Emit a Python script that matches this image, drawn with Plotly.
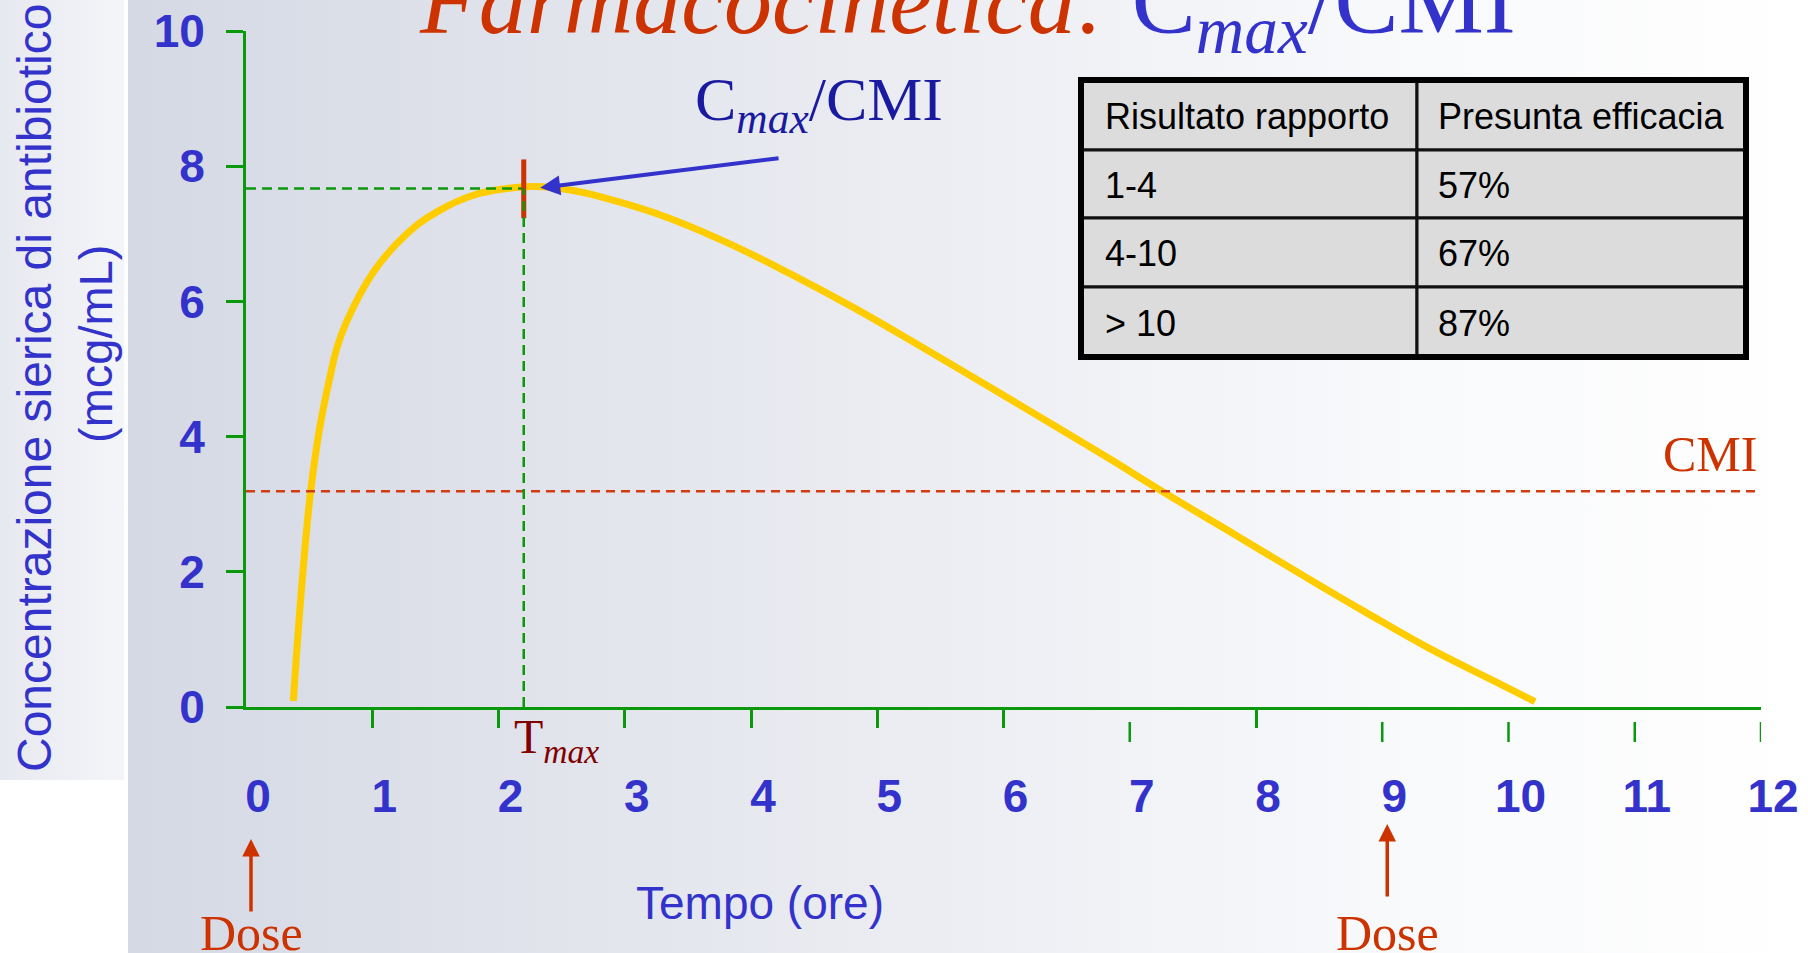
import base64
import plotly.graph_objects as go

# ---------------- data ----------------
TIME = [0.375, 0.441, 0.512, 0.586, 0.665, 0.718, 0.797, 1.008, 1.273, 1.537, 1.80, 2.065, 2.276,
        2.59, 2.86, 3.31, 3.81, 4.32, 4.82, 5.33, 5.84, 6.368, 6.85, 7.266, 7.86, 8.36, 8.87,
        9.37, 9.88, 10.21]
CONC = [0.09, 1.78, 3.19, 4.15, 4.88, 5.30, 5.70, 6.43, 7.00, 7.35, 7.57, 7.67, 7.70,
        7.64, 7.52, 7.26, 6.87, 6.40, 5.90, 5.35, 4.79, 4.20, 3.66, 3.18, 2.52, 1.96, 1.40,
        0.87, 0.39, 0.08]
CMI = 3.19
T_MAX = 2.2
C_MAX = 7.67
CMAX_MARK = [7.23, 8.10]
ARROW_TAIL = [4.23, 8.12]
ARROW_HEAD = [2.33, 7.68]
DOSE_TIMES = [0, 9]
X_TICKS = list(range(0, 13))
X_TICKS_ATTACHED = [1, 2, 3, 4, 5, 6, 8]
X_TICKS_DETACHED = [7, 9, 10, 11, 12]
Y_TICKS = [0, 2, 4, 6, 8, 10]
X_RANGE = [0, 12]
Y_RANGE = [0, 10]

TABLE_HEADER = ["Risultato rapporto", "Presunta efficacia"]
TABLE_RATIO = ["1-4", "4-10", "> 10"]
TABLE_EFFICACY = ["57%", "67%", "87%"]

# ---------------- layout geometry (pixels) ----------------
W, H = 1808, 953
PL, PR, PT, PB = 246, 1761, 31, 707
TABLE_COL_EDGES = [1081, 1417, 1746]
TABLE_ROW_EDGES = [80, 150, 218, 287, 357]
TABLE_TEXT_PAD = [22, 19]


def px_x(px):
    return (px - PL) / (PR - PL)


def px_y(py):
    return (PB - py) / (PB - PT)


GREEN = "#0a990a"
BLUE = "#3333cc"
NAVY = "#1a1aa0"
ORANGE = "#cc3300"
YELLOW = "#ffcc00"
MAROON = "#800000"
SANS = "Liberation Sans, Arial, sans-serif"
SERIF = "Liberation Serif, Times New Roman, serif"

svg = f"""<svg xmlns='http://www.w3.org/2000/svg' width='{W}' height='{H + 20}' viewBox='0 0 {W} {H + 20}' preserveAspectRatio='none'>
<defs>
<linearGradient id='g' x1='0' y1='0' x2='1' y2='0'>
<stop offset='0' stop-color='#d5d9e4'/>
<stop offset='0.4' stop-color='#e8eaf0'/>
<stop offset='0.75' stop-color='#f8f9fb'/>
<stop offset='1' stop-color='#ffffff'/>
</linearGradient>
<linearGradient id='s' x1='0' y1='0' x2='1' y2='0'>
<stop offset='0' stop-color='#e7e9f0'/>
<stop offset='1' stop-color='#f4f5f8'/>
</linearGradient>
</defs>
<rect width='{W}' height='{H + 20}' fill='#ffffff'/>
<rect x='128' y='0' width='{W-128}' height='{H + 20}' fill='url(#g)'/>
<rect x='0' y='0' width='124' height='780' fill='url(#s)'/>
</svg>"""
bg_src = "data:image/svg+xml;base64," + base64.b64encode(svg.encode()).decode()

fig = go.Figure()

fig.add_trace(go.Scatter(
    x=TIME, y=CONC, mode="lines",
    line=dict(color=YELLOW, width=7, shape="spline", smoothing=1.2),
    hoverinfo="skip", showlegend=False,
))
# hidden trace to activate the overlay axis carrying the attached ticks
fig.add_trace(go.Scatter(x=[X_RANGE[0]], y=[Y_RANGE[0]], xaxis="x2", mode="markers",
                         marker=dict(opacity=0), hoverinfo="skip", showlegend=False))

shapes = []
ann = []

# ---- table (cells, grid and text) ----
table_cols = [[TABLE_HEADER[0]] + TABLE_RATIO, [TABLE_HEADER[1]] + TABLE_EFFICACY]
for ci, col in enumerate(table_cols):
    for ri, txt in enumerate(col):
        x0, x1 = TABLE_COL_EDGES[ci], TABLE_COL_EDGES[ci + 1]
        y0, y1 = TABLE_ROW_EDGES[ri], TABLE_ROW_EDGES[ri + 1]
        shapes.append(dict(type="rect", xref="paper", yref="paper", layer="below",
                           x0=px_x(x0), x1=px_x(x1), y0=px_y(y1), y1=px_y(y0),
                           fillcolor="#dcdcdc", line=dict(color="#111111", width=3)))
        ann.append(dict(xref="paper", yref="paper", x=px_x(x0 + TABLE_TEXT_PAD[ci]),
                        y=px_y((y0 + y1) / 2 + 1), xanchor="left", yanchor="middle",
                        text=txt, showarrow=False,
                        font=dict(family=SANS, size=36, color="#000000")))
shapes.append(dict(type="rect", xref="paper", yref="paper",
                   x0=px_x(TABLE_COL_EDGES[0]), x1=px_x(TABLE_COL_EDGES[-1]),
                   y0=px_y(TABLE_ROW_EDGES[-1]), y1=px_y(TABLE_ROW_EDGES[0]),
                   line=dict(color="#000000", width=6)))

# CMI line
shapes.append(dict(type="line", xref="paper", yref="y", x0=0, x1=1, y0=CMI, y1=CMI,
                   line=dict(color="#d23c10", width=2.5, dash="9px,6px")))
# Cmax / Tmax guides
shapes.append(dict(type="line", xref="x", yref="y", x0=X_RANGE[0], x1=T_MAX, y0=C_MAX, y1=C_MAX,
                   line=dict(color=GREEN, width=2.5, dash="10px,6px")))
shapes.append(dict(type="line", xref="x", yref="y", x0=T_MAX, x1=T_MAX, y0=CMAX_MARK[0], y1=CMAX_MARK[1],
                   line=dict(color=ORANGE, width=5)))
shapes.append(dict(type="line", xref="x", yref="y", x0=T_MAX, x1=T_MAX, y0=Y_RANGE[0], y1=C_MAX,
                   line=dict(color=GREEN, width=2.5, dash="10px,6px")))
# detached ticks
for t in X_TICKS_DETACHED:
    shapes.append(dict(type="line", xref="x", yref="paper", x0=t, x1=t,
                       y0=px_y(722), y1=px_y(742), line=dict(color=GREEN, width=2.5)))

ann.append(dict(xref="paper", yref="paper", x=px_x(967), y=px_y(70), xanchor="center", yanchor="bottom",
                text="<i>Farmacocinetica:</i> <span style='color:#3333cc'>C<sub><i>max</i></sub>/CMI</span>",
                showarrow=False, font=dict(family=SERIF, size=96, color=ORANGE)))
ann.append(dict(xref="paper", yref="paper", x=px_x(693), y=px_y(63), xanchor="left", yanchor="top",
                text="C<sub><i>max</i></sub>/CMI", showarrow=False,
                font=dict(family=SERIF, size=62, color=NAVY)))
ann.append(dict(xref="x", yref="y", x=ARROW_HEAD[0], y=ARROW_HEAD[1], axref="x", ayref="y",
                ax=ARROW_TAIL[0], ay=ARROW_TAIL[1], text="", showarrow=True,
                arrowhead=2, arrowsize=1.0, arrowwidth=4, arrowcolor=BLUE, standoff=0))
ann.append(dict(xref="paper", yref="paper", x=px_x(1759), y=px_y(424), xanchor="right", yanchor="top",
                text="CMI", showarrow=False, font=dict(family=SERIF, size=50, color=ORANGE)))
ann.append(dict(xref="x", yref="paper", x=T_MAX, xshift=-12, y=px_y(708), xanchor="left", yanchor="top",
                text="T<sub><i>max</i></sub>", showarrow=False,
                font=dict(family=SERIF, size=48, color=MAROON)))
for t, head in zip(DOSE_TIMES, [839, 824]):
    ann.append(dict(xref="x", yref="paper", x=t, y=px_y(head), ax=0, ay=74, text="", showarrow=True,
                    xshift=5, arrowhead=2, arrowsize=1.0, arrowwidth=3.5, arrowcolor=ORANGE, standoff=0))
    ann.append(dict(xref="x", yref="paper", x=t, xshift=5, y=px_y(903), xanchor="center", yanchor="top",
                    text="Dose", showarrow=False, font=dict(family=SERIF, size=50, color=ORANGE)))
ann.append(dict(xref="paper", yref="paper", x=px_x(34), y=px_y(388), xanchor="center", yanchor="middle",
                text="Concentrazione sierica di antibiotico", textangle=-90, showarrow=False,
                font=dict(family=SANS, size=48, color=BLUE)))
ann.append(dict(xref="paper", yref="paper", x=px_x(95), y=px_y(344), xanchor="center", yanchor="middle",
                text="(mcg/mL)", textangle=-90, showarrow=False,
                font=dict(family=SANS, size=47, color=BLUE)))
ann.append(dict(xref="paper", yref="paper", x=px_x(760), y=px_y(903), xanchor="center", yanchor="middle",
                text="Tempo (ore)", showarrow=False, font=dict(family=SANS, size=46, color=BLUE)))

fig.update_layout(
    width=W, height=H,
    margin=dict(l=PL, r=W - PR, t=PT, b=H - PB, pad=0, autoexpand=False),
    paper_bgcolor="rgba(0,0,0,0)", plot_bgcolor="rgba(0,0,0,0)",
    showlegend=False,
    images=[dict(source=bg_src, xref="paper", yref="paper", x=px_x(0), y=px_y(0),
                 sizex=W / (PR - PL), sizey=(H + 20) / (PB - PT), xanchor="left", yanchor="top",
                 sizing="stretch", layer="below")],
    xaxis=dict(range=X_RANGE, showline=True, linecolor=GREEN, linewidth=3, showgrid=False,
               zeroline=False, tickmode="array", tickvals=X_TICKS, ticks="", automargin=False,
               tickfont=dict(family=SANS, size=46, color=BLUE, weight="bold"),
               ticklabelstandoff=47, ticklabelshift=12),
    xaxis2=dict(range=X_RANGE, overlaying="x", anchor="y", showline=False, showgrid=False,
                zeroline=False, tickmode="array", tickvals=X_TICKS_ATTACHED, ticks="outside",
                ticklen=20, tickwidth=2.5, tickcolor=GREEN, showticklabels=False, automargin=False),
    yaxis=dict(range=Y_RANGE, showline=True, linecolor=GREEN, linewidth=3, showgrid=False,
               zeroline=False, tickmode="array", tickvals=Y_TICKS, ticks="outside",
               ticklen=17, tickwidth=2.5, tickcolor=GREEN, automargin=False,
               tickfont=dict(family=SANS, size=46, color=BLUE, weight="bold"),
               ticklabelstandoff=12),
    shapes=shapes,
    annotations=ann,
)

fig.write_html(
    "out.html",
    config={"displayModeBar": False},
    post_script=("document.documentElement.style.margin='0px';"
                 "document.body.style.margin='0px';"
                 "document.documentElement.style.overflow='hidden';"
                 "document.body.style.overflow='hidden';"),
)
